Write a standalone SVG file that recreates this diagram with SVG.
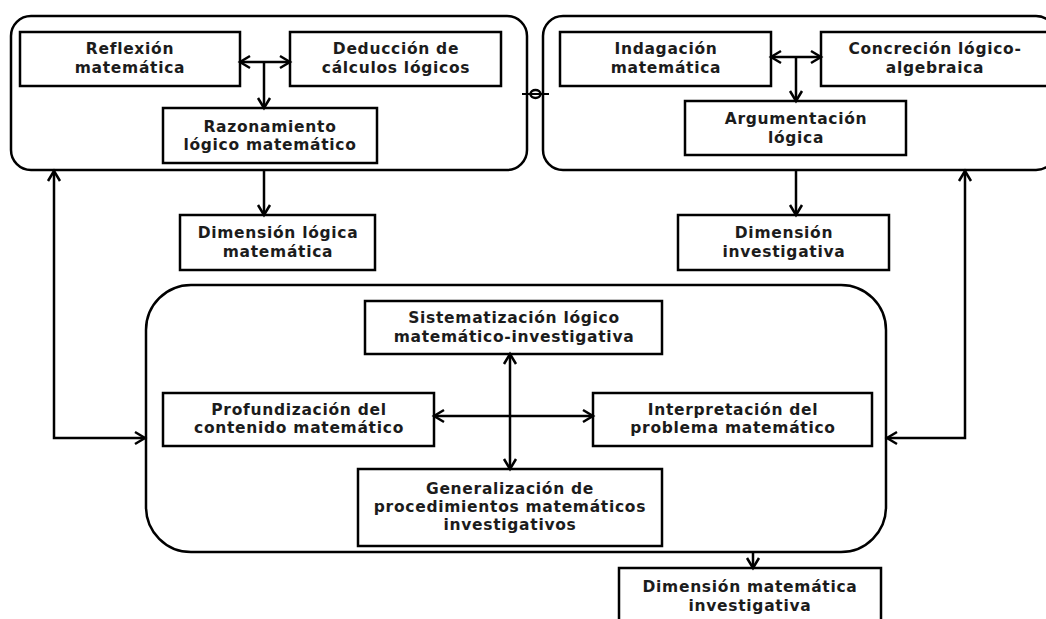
<svg xmlns="http://www.w3.org/2000/svg" width="1046" height="619" viewBox="0 0 1046 619">
<defs>
<style>
.c{fill:none;stroke:#000;stroke-width:2.5}
.b{fill:#fff;stroke:#000;stroke-width:2.5}
.t{font-family:"DejaVu Sans",Verdana,sans-serif;font-size:15.5px;font-weight:bold;letter-spacing:0.7px;fill:#1c1c1c;text-anchor:middle}
.l{fill:none;stroke:#000;stroke-width:2.5}
</style>
<marker id="ah" markerUnits="userSpaceOnUse" markerWidth="16" markerHeight="16" viewBox="-12 -8 14 16" refX="0" refY="0" orient="auto-start-reverse">
<path d="M-10,-6 L0,0 L-10,6" fill="none" stroke="#000" stroke-width="2.5"/>
</marker>
</defs>
<rect width="1046" height="619" fill="#fff"/>

<g id="container-logica"><rect class="c" x="11" y="16" width="516" height="154" rx="20"/></g>
<g id="container-investigativa"><rect class="c" x="543" y="16" width="513" height="154" rx="20"/></g>
<g id="container-sistematizacion"><rect class="c" x="146" y="285" width="740" height="267" rx="45"/></g>

<g id="reflexion"><rect class="b" x="20" y="32" width="220" height="54"/>
<text class="t" x="130" y="54">Reflexión</text><text class="t" x="130" y="73">matemática</text></g>
<g id="deduccion"><rect class="b" x="290" y="32" width="211" height="54"/>
<text class="t" x="396" y="54">Deducción de</text><text class="t" x="396" y="73">cálculos lógicos</text></g>
<g id="razonamiento"><rect class="b" x="163" y="108" width="214" height="55"/>
<text class="t" x="270" y="132">Razonamiento</text><text class="t" x="270" y="150">lógico matemático</text></g>
<g id="dim-logica"><rect class="b" x="180" y="215" width="195" height="55"/>
<text class="t" x="278" y="238">Dimensión lógica</text><text class="t" x="278" y="257">matemática</text></g>

<g id="indagacion"><rect class="b" x="560" y="32" width="211" height="54"/>
<text class="t" x="666" y="54">Indagación</text><text class="t" x="666" y="73">matemática</text></g>
<g id="concrecion"><rect class="b" x="821" y="32" width="229" height="54"/>
<text class="t" x="935" y="54">Concreción lógico-</text><text class="t" x="935" y="73">algebraica</text></g>
<g id="argumentacion"><rect class="b" x="685" y="101" width="221" height="54"/>
<text class="t" x="796" y="124">Argumentación</text><text class="t" x="796" y="143">lógica</text></g>
<g id="dim-investigativa"><rect class="b" x="678" y="215" width="211" height="55"/>
<text class="t" x="784" y="238">Dimensión</text><text class="t" x="784" y="257">investigativa</text></g>

<g id="sistematizacion"><rect class="b" x="365" y="301" width="297" height="53"/>
<text class="t" x="514" y="323">Sistematización lógico</text><text class="t" x="514" y="342">matemático-investigativa</text></g>
<g id="profundizacion"><rect class="b" x="163" y="393" width="271" height="53"/>
<text class="t" x="299" y="415">Profundización del</text><text class="t" x="299" y="433">contenido matemático</text></g>
<g id="interpretacion"><rect class="b" x="593" y="393" width="279" height="53"/>
<text class="t" x="733" y="415">Interpretación del</text><text class="t" x="733" y="433">problema matemático</text></g>
<g id="generalizacion"><rect class="b" x="358" y="469" width="304" height="77"/>
<text class="t" x="510" y="494">Generalización de</text><text class="t" x="510" y="512">procedimientos matemáticos</text><text class="t" x="510" y="530">investigativos</text></g>
<g id="dim-matematica"><rect class="b" x="619" y="568" width="262" height="60"/>
<text class="t" x="750" y="592">Dimensión matemática</text><text class="t" x="750" y="611">investigativa</text></g>

<g id="connectors">
<line class="l" x1="240" y1="62" x2="290" y2="62" marker-start="url(#ah)" marker-end="url(#ah)"/>
<line class="l" x1="264" y1="62" x2="264" y2="108" marker-end="url(#ah)"/>
<line class="l" x1="264" y1="170" x2="264" y2="215" marker-end="url(#ah)"/>
<line class="l" x1="771" y1="57" x2="821" y2="57" marker-start="url(#ah)" marker-end="url(#ah)"/>
<line class="l" x1="796" y1="57" x2="796" y2="101" marker-end="url(#ah)"/>
<line class="l" x1="796" y1="170" x2="796" y2="215" marker-end="url(#ah)"/>
<polyline class="l" points="54,171 54,438 145,438" marker-start="url(#ah)" marker-end="url(#ah)"/>
<polyline class="l" points="965,171 965,438 887,438" marker-start="url(#ah)" marker-end="url(#ah)"/>
<line class="l" x1="434" y1="416" x2="593" y2="416" marker-start="url(#ah)" marker-end="url(#ah)"/>
<line class="l" x1="510" y1="354" x2="510" y2="469" marker-start="url(#ah)" marker-end="url(#ah)"/>
<line class="l" x1="753" y1="552" x2="753" y2="568" marker-end="url(#ah)"/>
<ellipse cx="535.5" cy="94" rx="5" ry="4" fill="#fff" stroke="#000" stroke-width="2.5"/>
<line x1="522" y1="94" x2="549" y2="94" stroke="#000" stroke-width="2"/>
</g>
</svg>
